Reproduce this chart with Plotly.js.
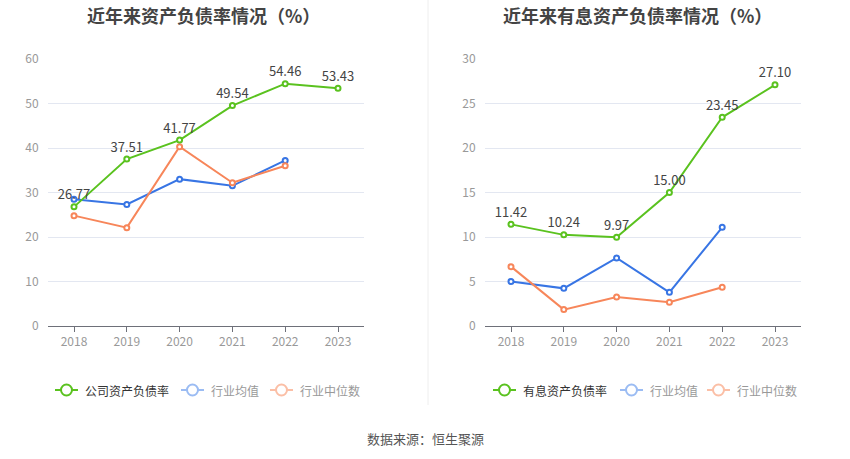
<!DOCTYPE html>
<html>
<head>
<meta charset="utf-8">
<script src="https://cdn.plot.ly/plotly-3.0.1.min.js"></script>
<style>html,body{margin:0;padding:0;background:#fff;}#chart{width:850px;height:459px;}</style>
</head>
<body>
<div id="chart"></div>
<script>
const years = ['2018','2019','2020','2021','2022','2023'];
const debtRatio = [26.77, 37.51, 41.77, 49.54, 54.46, 53.43];
const debtIndustryMean = [28.5, 27.3, 33.0, 31.5, 37.2];
const debtIndustryMedian = [24.8, 22.1, 40.3, 32.2, 36.0];
const interestDebtRatio = [11.42, 10.24, 9.97, 15.00, 23.45, 27.10];
const interestIndustryMean = [5.0, 4.23, 7.64, 3.78, 11.09];
const interestIndustryMedian = [6.67, 1.84, 3.26, 2.66, 4.35];
const leftTitle = '近年来资产负债率情况（%）';
const rightTitle = '近年来有息资产负债率情况（%）';
const leftNames = ['公司资产负债率','行业均值','行业中位数'];
const rightNames = ['有息资产负债率','行业均值','行业中位数'];
const sourceText = '数据来源：恒生聚源';

const GREEN = '#5ac21f', BLUE = '#3875e4', ORANGE = '#f7865a';
const FONT = '"Noto Sans CJK SC", "Noto Sans", sans-serif';
const W = 850, H = 459;

function line(x, y, color, xa, ya, withText) {
  const t = {
    type: 'scatter', mode: withText ? 'lines+markers+text' : 'lines+markers',
    x: x, y: y, xaxis: xa, yaxis: ya,
    line: {color: color, width: 2},
    marker: {symbol: 'circle', size: 5, color: '#fff', line: {color: color, width: 2}},
    showlegend: false, cliponaxis: false, hoverinfo: 'skip'
  };
  if (withText) {
    t.text = y.map(v => v.toFixed(2));
    t.textposition = 'top center';
    t.textfont = {family: FONT, size: 13, color: '#444'};
  }
  return t;
}

const data = [
  line(years.slice(0, debtIndustryMean.length), debtIndustryMean, BLUE, 'x', 'y', false),
  line(years.slice(0, debtIndustryMedian.length), debtIndustryMedian, ORANGE, 'x', 'y', false),
  line(years, debtRatio, GREEN, 'x', 'y', true),
  line(years.slice(0, interestIndustryMean.length), interestIndustryMean, BLUE, 'x2', 'y2', false),
  line(years.slice(0, interestIndustryMedian.length), interestIndustryMedian, ORANGE, 'x2', 'y2', false),
  line(years, interestDebtRatio, GREEN, 'x2', 'y2', true)
];

const px = v => v / W, py = v => 1 - v / H;
const yDom = [py(326), py(59)];

function xaxis(dom, anchor) {
  return {
    domain: dom, anchor: anchor, type: 'category', range: [-0.5, 5.5],
    showgrid: false, zeroline: false, showline: true, linecolor: '#6e7079', linewidth: 1,
    ticks: 'outside', ticklen: 5, tickcolor: '#6e7079', tickwidth: 1,
    tickfont: {family: FONT, size: 12, color: '#999'}, fixedrange: true
  };
}
function yaxis(dom, anchor, max, dtick) {
  return {
    domain: dom, anchor: anchor, range: [0, max], dtick: dtick, tick0: 0,
    showgrid: true, gridcolor: '#e3e7f1', gridwidth: 1, zeroline: false, showline: false,
    ticks: '', ticklabelstandoff: 8,
    tickfont: {family: FONT, size: 12, color: '#999'}, fixedrange: true
  };
}

const shapes = [
  {type: 'line', xref: 'paper', yref: 'paper', x0: px(428), x1: px(428), y0: py(0), y1: py(405),
   line: {color: '#eeeeee', width: 1}}
];
const annotations = [
  {xref: 'paper', yref: 'paper', x: px(203), y: py(15), text: '<b>' + leftTitle + '</b>', showarrow: false,
   font: {family: FONT, size: 18, color: '#444'}, xanchor: 'center', yanchor: 'middle'},
  {xref: 'paper', yref: 'paper', x: px(637), y: py(15), text: '<b>' + rightTitle + '</b>', showarrow: false,
   font: {family: FONT, size: 18, color: '#444'}, xanchor: 'center', yanchor: 'middle'},
  {xref: 'paper', yref: 'paper', x: px(425), y: py(438), text: sourceText, showarrow: false,
   font: {family: FONT, size: 13, color: '#555'}, xanchor: 'center', yanchor: 'middle'}
];

function legendItem(x0, name, color, textColor) {
  const yc = 390;
  shapes.push({type: 'line', xref: 'paper', yref: 'paper', x0: px(x0), x1: px(x0 + 23), y0: py(yc), y1: py(yc),
    line: {color: color, width: 2}});
  shapes.push({type: 'circle', xref: 'paper', yref: 'paper', x0: px(x0 + 6), x1: px(x0 + 17), y0: py(yc + 5.5), y1: py(yc - 5.5),
    line: {color: color, width: 2}, fillcolor: '#fff'});
  annotations.push({xref: 'paper', yref: 'paper', x: px(x0 + 28), y: py(yc), text: name, showarrow: false,
    xanchor: 'left', yanchor: 'middle', font: {family: FONT, size: 12, color: textColor}});
}
legendItem(55, leftNames[0], GREEN, '#333');
legendItem(181, leftNames[1], '#9bbcf3', '#999');
legendItem(270, leftNames[2], '#fbbfa6', '#999');
legendItem(493, rightNames[0], GREEN, '#333');
legendItem(620, rightNames[1], '#9bbcf3', '#999');
legendItem(707, rightNames[2], '#fbbfa6', '#999');

const layout = {
  width: W, height: H, margin: {l: 0, r: 0, t: 0, b: 0},
  paper_bgcolor: '#fff', plot_bgcolor: '#fff', showlegend: false,
  font: {family: FONT},
  xaxis: xaxis([px(47.6), px(364.4)], 'y'),
  yaxis: yaxis(yDom, 'x', 60, 10),
  xaxis2: xaxis([px(484.6), px(801.4)], 'y2'),
  yaxis2: yaxis(yDom, 'x2', 30, 5),
  shapes: shapes, annotations: annotations
};

Plotly.newPlot('chart', data, layout, {displayModeBar: false, staticPlot: true});
</script>
</body>
</html>
